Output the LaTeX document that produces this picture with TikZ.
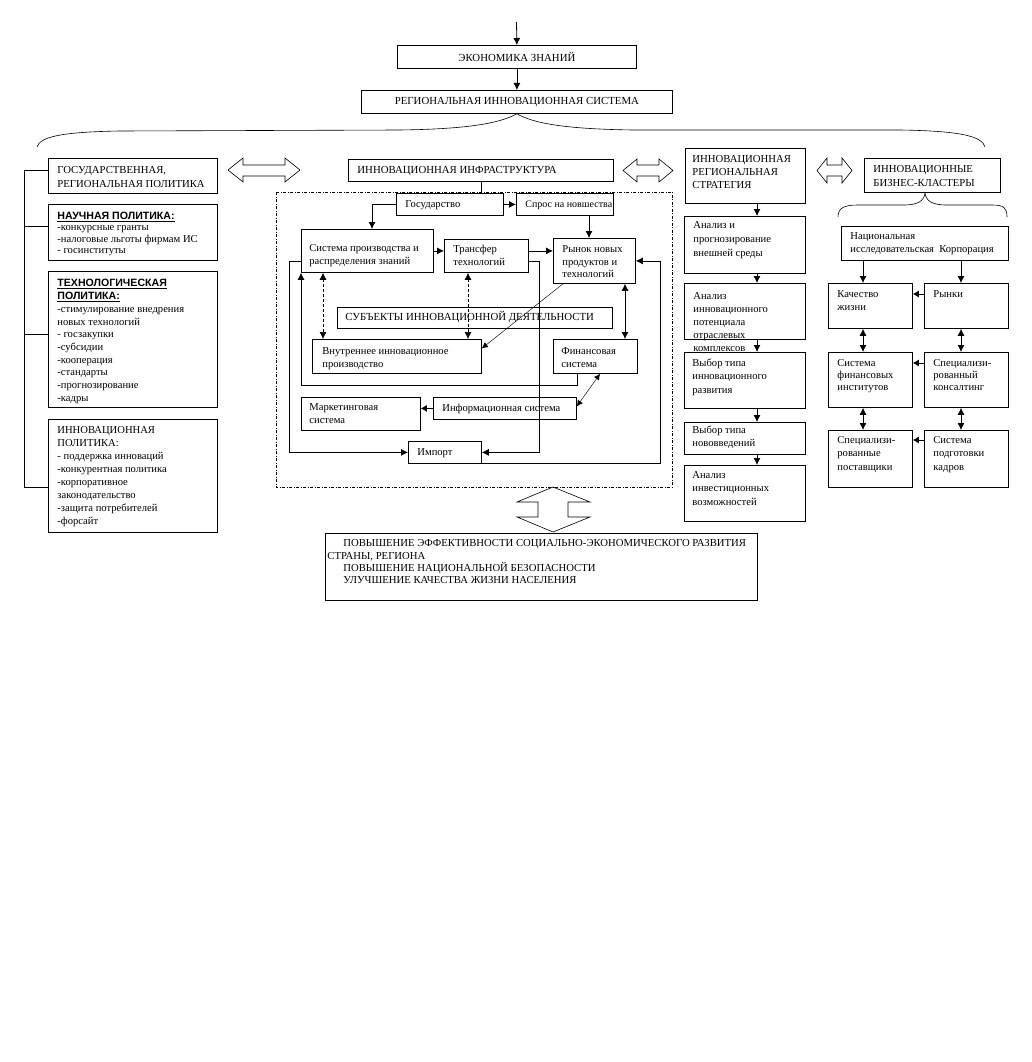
\documentclass[tikz,border=0pt]{standalone}
\usepackage{fontspec}
\setmainfont{Liberation Serif}
\newfontfamily\hsans{Liberation Sans}
\usetikzlibrary{arrows.meta,calc}
\newcommand\fs[2]{\fontsize{#1}{#2}\selectfont}
\newcommand\bt[6]{\parbox[b][#2pt][t]{#1pt}{#5\vspace*{\dimexpr#4pt-\baselineskip\relax}\hbox{}\raggedright\leftskip=#3pt\relax\rightskip=-100pt plus 1fil\relax\parindent=0pt\relax #6\par}}
\newcommand\hd[1]{{\hsans\bfseries\fontsize{10.6}{11}\selectfont\underline{#1}}}
\begin{document}
\begin{tikzpicture}[x=1pt,y=-1pt,line width=0.8pt,
  box/.style={draw,fill=white,line width=0.8pt,inner sep=0pt,anchor=north west},
  cbox/.style={box,font=\fs{10.8}{12}},
  arr/.style={-{Latex[length=7pt,width=7pt]}},
  barr/.style={{Latex[length=7pt,width=7pt]}-{Latex[length=7pt,width=7pt]}},
  darr/.style={barr,dash pattern=on 3pt off 2pt,line width=0.7pt},
  tarr/.style={-{Latex[length=6pt,width=6pt]},line width=0.45pt},
  tbarr/.style={{Latex[length=6pt,width=6pt]}-{Latex[length=6pt,width=6pt]},line width=0.45pt},
  sarr/.style={-{Latex[length=6pt,width=7pt]}},
  blk/.style={draw,line width=0.6pt,fill=white}]
\useasboundingbox (0,0) rectangle (1031,1062);

% ---------- top ----------
\node[cbox,minimum width=239pt,minimum height=23pt] (econ) at (397,45) {ЭКОНОМИКА ЗНАНИЙ};
\node[cbox,minimum width=311pt,minimum height=23pt] (rins) at (361,90) {РЕГИОНАЛЬНАЯ ИННОВАЦИОННАЯ СИСТЕМА};
\coordinate (top) at (516.5,22);
\draw[arr] (top) -- (econ.north);
\draw[arr] (econ.south) -- (rins.north);
\draw[line width=0.6pt] (37,147) .. controls (40,137) and (60,132) .. (120,131) -- (400,130)
  .. controls (470,129) and (500,123) .. (rins.south)
  .. controls (533,123) and (563,129) .. (633,130) -- (900,130)
  .. controls (965,131) and (982,137) .. (985,147);

% ---------- left column ----------
\node[box] (gov) at (48,158) {\bt{169}{35}{9}{15.5}{\fs{10.7}{14}}{ГОСУДАРСТВЕННАЯ,\\РЕГИОНАЛЬНАЯ ПОЛИТИКА}};
\node[box] (sci) at (48,204) {\bt{169}{56}{9}{15}{\fs{10.6}{11.5}}{\hd{НАУЧНАЯ ПОЛИТИКА:}\\-конкурсные гранты\\-налоговые льготы фирмам ИС\\- госинституты}};
\node[box] (tech) at (48,271) {\bt{169}{136}{9}{15.5}{\fs{10.6}{12.7}}{\hd{ТЕХНОЛОГИЧЕСКАЯ}\\\hd{ПОЛИТИКА:}\\-стимулирование внедрения\\новых технологий\\- госзакупки\\-субсидии\\-кооперация\\-стандарты\\-прогнозирование\\-кадры}};
\node[box] (inp) at (48,419) {\bt{169}{113}{9}{14.5}{\fs{10.6}{13}}{ИННОВАЦИОННАЯ\\ПОЛИТИКА:\\- поддержка инноваций\\-конкурентная политика\\-корпоративное\\законодательство\\-защита потребителей\\-форсайт}};
\coordinate (lbt) at (24,170);
\coordinate (lbb) at (24,487);
\coordinate (lb2) at (24,226);
\coordinate (lb3) at (24,334);
\draw (lbt -| gov.west) -- (lbt) -- (lbb) -- (lbb -| inp.west);
\draw (lb2) -- (lb2 -| sci.west);
\draw (lb3) -- (lb3 -| tech.west);

% ---------- block arrows ----------
\draw[blk] (228,170) -- (243,158) -- (243,165) -- (285,165) -- (285,158) -- (300,170) -- (285,182) -- (285,176) -- (243,176) -- (243,182) -- cycle;
\draw[blk] (623,170.5) -- (637,159) -- (637,165) -- (659,165) -- (659,159) -- (673,170.5) -- (659,182) -- (659,176) -- (637,176) -- (637,182) -- cycle;
\draw[blk] (817,170.5) -- (827,158) -- (827,165) -- (842,165) -- (842,158) -- (852,170.5) -- (842,183) -- (842,176) -- (827,176) -- (827,183) -- cycle;
\draw[blk] (553,487) -- (590,502) -- (568,502) -- (568,517) -- (590,517) -- (553,532) -- (517,517) -- (538,517) -- (538,502) -- (517,502) -- cycle;

% ---------- infrastructure ----------
\draw[dash pattern=on 3pt off 1.5pt on 1pt off 1.5pt,line width=0.6pt] (276,192) rectangle (672,487);
\node[box] (infra) at (348,159) {\bt{265}{22}{9}{14.5}{\fs{10.8}{12}}{ИННОВАЦИОННАЯ ИНФРАСТРУКТУРА}};
\node[box] (gos) at (396,193) {\bt{107}{22}{9}{14}{\fs{10.6}{12}}{Государство}};
\node[box] (sp) at (516,193) {\bt{97}{22}{9}{14}{\fs{10}{12}}{Спрос на новшества}};
\node[box] (sys) at (301,229) {\bt{132}{43}{8}{22.5}{\fs{10.6}{13}}{Система производства и\\распределения знаний}};
\node[box] (tr) at (444,239) {\bt{84}{33}{9}{13}{\fs{10.6}{13}}{Трансфер\\технологий}};
\node[box] (rn) at (553,238) {\bt{82}{45}{9}{14.5}{\fs{10.6}{12.5}}{Рынок новых\\продуктов и\\технологий}};
\node[box] (subj) at (337,307) {\bt{275}{21}{8}{13}{\fs{10.8}{12}}{СУБЪЕКТЫ ИННОВАЦИОННОЙ ДЕЯТЕЛЬНОСТИ}};
\node[box] (inn) at (312,339) {\bt{169}{34}{10}{15.5}{\fs{10.6}{13}}{Внутреннее инновационное\\производство}};
\node[box] (fin) at (553,339) {\bt{84}{34}{8}{15.5}{\fs{10.6}{13}}{Финансовая\\система}};
\node[box] (mkt) at (301,397) {\bt{119}{33}{8}{13.5}{\fs{10.6}{12.5}}{Маркетинговая\\система}};
\node[box] (inf) at (433,397) {\bt{143}{22}{9}{14}{\fs{10.6}{12}}{Информационная система}};
\node[box] (imp) at (408,441) {\bt{73}{22}{9}{14}{\fs{10.6}{12}}{Импорт}};

\coordinate (v1) at (481,0);
\draw (v1 |- infra.south) -- (v1 |- gos.north);
\draw[arr] (gos.east) -- (sp.west);
\coordinate (v2) at (372,0);
\draw[arr] (gos.west) -| (v2 |- sys.north);
\coordinate (v3) at (589,0);
\draw[arr] (v3 |- sp.south) -- (v3 |- rn.north);
\draw[arr] (sys.east) -- (sys.east -| tr.west);
\draw[arr] (sys.east -| tr.east) -- (sys.east -| rn.west);
\coordinate (v4) at (289,0);
\draw[arr] ([yshift=-10.5pt]sys.west) -| (v4 |- imp.west) -- (imp.west);
\coordinate (v5) at (539,0);
\draw[arr] ([yshift=-5.5pt]tr.east) -| (v5 |- imp.east) -- (imp.east);
\coordinate (v6) at (660,0);
\draw[arr] (imp.south east) -| (v6 |- rn.east) -- (rn.east);
\coordinate (h1) at (0,385);
\draw[arr] ([xshift=-18pt]fin.south) |- (h1 -| sys.south west) -- (sys.south west);
\coordinate (v7) at (323,0);
\draw[darr] (v7 |- sys.south) -- (v7 |- inn.north);
\coordinate (v8) at (468,0);
\draw[darr] (v8 |- tr.south) -- (v8 |- inn.north);
\draw[tarr] ([xshift=10pt]rn.south west) -- ([yshift=8pt]inn.east);
\coordinate (v9) at (625,0);
\draw[barr] (v9 |- rn.south) -- (v9 |- fin.north);
\draw[sarr] (inf.west) -- (inf.west -| mkt.east);
\draw[tbarr] ([xshift=47pt]fin.south west) -- ([yshift=2pt]inf.east);

% ---------- strategy ----------
\node[box] (st) at (685,148) {\bt{120}{55}{7}{14.5}{\fs{10.7}{12.8}}{ИННОВАЦИОННАЯ\\РЕГИОНАЛЬНАЯ\\СТРАТЕГИЯ}};
\node[box] (a1) at (684,216) {\bt{121}{57}{9}{12}{\fs{10.6}{14}}{Анализ и\\прогнозирование\\внешней среды}};
\node[box] (a2) at (684,283) {\bt{121}{56}{9}{16.5}{\fs{10.6}{13}}{Анализ\\инновационного\\потенциала\\отраслевых\\комплексов}};
\node[box] (a3) at (684,352) {\bt{121}{56}{8}{14}{\fs{10.6}{13.5}}{Выбор типа\\инновационного\\развития}};
\node[box] (a4) at (684,422) {\bt{121}{32}{8}{11}{\fs{10.6}{13}}{Выбор типа\\нововведений}};
\node[box] (a5) at (684,465) {\bt{121}{56}{8}{13}{\fs{10.6}{13.5}}{Анализ\\инвестиционных\\возможностей}};
\coordinate (v10) at (757,0);
\draw[arr] (v10 |- st.south) -- (v10 |- a1.north);
\draw[arr] (v10 |- a1.south) -- (v10 |- a2.north);
\draw[arr] (v10 |- a2.south) -- (v10 |- a3.north);
\draw[arr] (v10 |- a3.south) -- (v10 |- a4.north);
\draw[arr] (v10 |- a4.south) -- (v10 |- a5.north);

% ---------- clusters ----------
\node[box] (cl) at (864,158) {\bt{136}{34}{9}{14.5}{\fs{10.7}{14}}{ИННОВАЦИОННЫЕ\\БИЗНЕС-КЛАСТЕРЫ}};
\draw[line width=0.6pt] (838,217) .. controls (838,208) and (844,205) .. (858,205) -- (903,205)
  .. controls (918,205) and (924,201) .. (925,193)
  .. controls (926,201) and (932,205) .. (947,205) -- (992,205)
  .. controls (1004,205) and (1007,208) .. (1007,217);
\node[box] (corp) at (841,226) {\bt{167}{34}{9}{13.5}{\fs{10.6}{12.5}}{Национальная\\исследовательская~~Корпорация}};
\node[box] (q) at (828,283) {\bt{84}{45}{9}{14}{\fs{10.6}{13}}{Качество\\жизни}};
\node[box] (rk) at (924,283) {\bt{84}{45}{9}{14}{\fs{10.6}{13}}{Рынки}};
\node[box] (sf) at (828,352) {\bt{84}{55}{9}{14}{\fs{10.6}{12}}{Система\\финансовых\\институтов}};
\node[box] (ks) at (924,352) {\bt{84}{55}{9}{14}{\fs{10.6}{12}}{Специализи-\\рованный\\консалтинг}};
\node[box] (ps) at (828,430) {\bt{84}{57}{9}{13}{\fs{10.6}{13.5}}{Специализи-\\рованные\\поставщики}};
\node[box] (pk) at (924,430) {\bt{84}{57}{9}{13}{\fs{10.6}{13.5}}{Система\\подготовки\\кадров}};
\coordinate (v11) at (863,0);
\coordinate (v12) at (961,0);
\draw[arr] (v11 |- corp.south) -- (v11 |- q.north);
\draw[arr] (v12 |- corp.south) -- (v12 |- rk.north);
\draw[barr] (v11 |- q.south) -- (v11 |- sf.north);
\draw[barr] (v12 |- rk.south) -- (v12 |- ks.north);
\draw[barr] (v11 |- sf.south) -- (v11 |- ps.north);
\draw[barr] (v12 |- ks.south) -- (v12 |- pk.north);
\draw[sarr] ([yshift=-11pt]rk.north west) -- ([yshift=-11pt]q.north east);
\draw[sarr] ([yshift=-11pt]ks.north west) -- ([yshift=-11pt]sf.north east);
\draw[sarr] ([yshift=-10pt]pk.north west) -- ([yshift=-10pt]ps.north east);

% ---------- goal ----------
\node[box] (goal) at (325,533) {\bt{432}{67}{2}{13.5}{\fs{10.7}{12.3}}{\hspace*{16pt}ПОВЫШЕНИЕ ЭФФЕКТИВНОСТИ СОЦИАЛЬНО-ЭКОНОМИЧЕСКОГО РАЗВИТИЯ\\СТРАНЫ, РЕГИОНА\\\hspace*{16pt}ПОВЫШЕНИЕ НАЦИОНАЛЬНОЙ БЕЗОПАСНОСТИ\\\hspace*{16pt}УЛУЧШЕНИЕ КАЧЕСТВА ЖИЗНИ НАСЕЛЕНИЯ}};
\end{tikzpicture}
\end{document}
